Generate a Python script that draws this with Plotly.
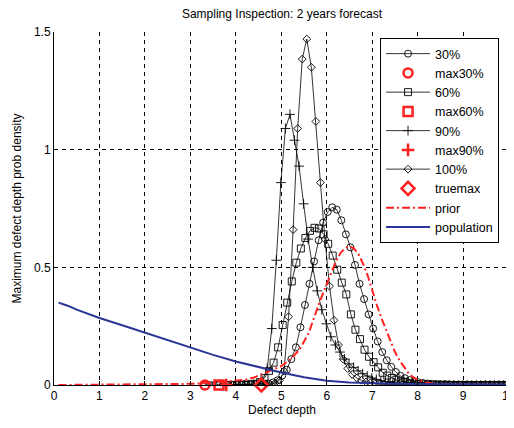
import plotly.graph_objects as go

# ---- data ----
STEP = 0.1

start30 = 3.32
y30 = [0, 0, 0, 0, 0, 0, 0, 0.001, 0.001, 0.001, 0.002, 0.002, 0.003,
       0.004, 0.006, 0.011, 0.02,
       0.04, 0.065, 0.11, 0.16, 0.245, 0.34, 0.43, 0.525, 0.615, 0.69,
       0.735, 0.755, 0.745, 0.70, 0.64, 0.585, 0.51, 0.43, 0.365, 0.30,
       0.24, 0.185, 0.14, 0.105, 0.077, 0.055, 0.039, 0.029, 0.021, 0.015,
       0.011, 0.008, 0.006, 0.004, 0.003, 0.002, 0.002, 0.001, 0.001, 0.001,
       0, 0, 0, 0, 0, 0, 0, 0, 0, 0]

start60 = 3.63
y60 = [0, 0, 0, 0, 0, 0.001, 0.002, 0.003, 0.005,
       0.012, 0.03, 0.06, 0.095, 0.16,
       0.255, 0.35, 0.44, 0.52, 0.58, 0.625, 0.655, 0.668, 0.665, 0.64,
       0.60, 0.55, 0.49, 0.435, 0.385, 0.30, 0.235, 0.195, 0.15, 0.12,
       0.097, 0.075, 0.052, 0.04, 0.03, 0.022, 0.016, 0.012, 0.008, 0.006,
       0.004, 0.003, 0.002, 0.002, 0.001,
       0.001, 0.001, 0, 0, 0, 0, 0, 0, 0, 0, 0, 0, 0, 0, 0]

start90 = 3.79
y90 = [0, 0, 0, 0, 0, 0.001, 0.002,
       0.006, 0.02, 0.07, 0.24, 0.53, 0.86,
       1.09, 1.15, 1.04, 0.93, 0.77, 0.62, 0.50, 0.40, 0.32, 0.26,
       0.205, 0.17, 0.14, 0.11, 0.09, 0.075, 0.06, 0.048, 0.038, 0.03,
       0.024, 0.018, 0.014, 0.01, 0.008, 0.006, 0.004, 0.003, 0.002, 0.001,
       0.001, 0.001, 0.001, 0, 0, 0, 0, 0, 0, 0, 0, 0, 0, 0, 0, 0, 0, 0, 0]

start100 = 4.56
y100 = [0, 0.001, 0.003, 0.008, 0.02,
        0.06, 0.29, 0.66, 1.09, 1.385, 1.47, 1.35, 1.12, 0.86, 0.62,
        0.42, 0.275, 0.17, 0.11, 0.07, 0.045, 0.03, 0.02, 0.013, 0.009,
        0.006, 0.004, 0.003, 0.002, 0.001,
        0.001, 0, 0, 0, 0, 0, 0, 0, 0, 0, 0, 0, 0, 0, 0, 0, 0, 0, 0, 0,
        0, 0, 0, 0, 0]

max_x = [start30, start60, start90, start100]
max_y = [0, 0, 0, 0]

prior_x = [0.1, 1, 2, 2.5, 3, 3.5, 4, 4.2, 4.4, 4.6, 4.8, 5.0, 5.2, 5.4, 5.6,
           5.8, 6.0, 6.1, 6.2, 6.3, 6.4, 6.5, 6.6, 6.7, 6.8, 6.9, 7.0, 7.1,
           7.2, 7.3, 7.4, 7.5, 7.6, 7.7, 7.8, 7.9, 8.0, 8.2, 8.4, 8.6, 9, 10]
prior_y = [0.0, 0.001, 0.002, 0.003, 0.005, 0.009, 0.016, 0.022, 0.032, 0.047,
           0.065, 0.08, 0.11, 0.15, 0.22, 0.33, 0.43, 0.48, 0.525, 0.56, 0.582,
           0.59, 0.58, 0.555, 0.515, 0.465, 0.40, 0.34, 0.285, 0.235, 0.185,
           0.14, 0.105, 0.075, 0.05, 0.033, 0.022, 0.01, 0.004, 0.002, 0.001, 0]

pop_x = [0.1, 0.3, 0.5, 1, 1.5, 2, 2.5, 3, 3.5, 4, 4.5, 5, 5.5, 6, 6.5, 7,
         7.5, 8, 9, 10]
pop_y = [0.35, 0.337, 0.32, 0.285, 0.254, 0.222, 0.19, 0.158, 0.128, 0.10,
         0.075, 0.053, 0.033, 0.018, 0.011, 0.007, 0.005, 0.004, 0.003, 0.002]

x_ticks = [0, 1, 2, 3, 4, 5, 6, 7, 8, 9, 10]
y_ticks = [0, 0.5, 1, 1.5]


def grid_x(start, n):
    return [round(start + STEP * i, 4) for i in range(n)]


RED = "#FF2020"
BLUE = "#2A3596"
FONT = "Liberation Sans, Arial, sans-serif"

# the page body has an 8px margin, so the figure is sized to fit inside it
W, H = 506, 420

fig = go.Figure()

series = [
    ("30%", start30, y30, "circle-open", 7),
    ("max30%", None, None, "circle-open", 9),
    ("60%", start60, y60, "square-open", 7),
    ("max60%", None, None, "square-open", 9),
    ("90%", start90, y90, "cross-thin-open", 7),
    ("max90%", None, None, "cross-thin-open", 9),
    ("100%", start100, y100, "diamond-open", 6),
    ("truemax", None, None, "diamond-open", 10),
]

for idx, (name, start, ys, sym, size) in enumerate(series):
    if ys is not None:
        fig.add_trace(go.Scatter(
            x=grid_x(start, len(ys)), y=ys, name=name, mode="lines+markers",
            line=dict(color="black", width=0.8),
            marker=dict(symbol=sym, size=size, color="black",
                        line=dict(color="black", width=0.9)),
        ))
    else:
        k = idx // 2
        fig.add_trace(go.Scatter(
            x=[max_x[k]], y=[max_y[k]], name=name, mode="markers",
            marker=dict(symbol=sym, size=size, color=RED,
                        line=dict(color=RED, width=2.5)),
            cliponaxis=False,
        ))

fig.add_trace(go.Scatter(
    x=prior_x, y=prior_y, name="prior", mode="lines",
    line=dict(color=RED, width=2, dash="8px,3px,2px,3px"),
))
fig.add_trace(go.Scatter(
    x=pop_x, y=pop_y, name="population", mode="lines",
    line=dict(color=BLUE, width=2),
))

axis_common = dict(
    showgrid=True, gridcolor="black", gridwidth=0.6, griddash="4px,4px",
    zeroline=False, showline=True, linecolor="black", linewidth=1,
    ticks="inside", ticklen=4, tickcolor="black",
    tickfont=dict(family=FONT, size=12, color="black"),
    ticklabeloverflow="allow",
    mirror=False,
)

fig.update_layout(
    width=W, height=H,
    margin=dict(l=46, r=4, t=24, b=43, autoexpand=False),
    paper_bgcolor="white", plot_bgcolor="white",
    font=dict(family=FONT, size=12, color="black"),
    title=dict(text="Sampling Inspection: 2 years forecast",
               x=0.5, xref="paper", xanchor="center",
               y=1 - 6 / H, yref="container", yanchor="middle",
               font=dict(family=FONT, size=12, color="black")),
    xaxis=dict(range=[0, 10.03], tickvals=x_ticks,
               title=dict(text="Defect depth", standoff=2,
                          font=dict(family=FONT, size=12)),
               **axis_common),
    yaxis=dict(range=[0, 1.5], tickvals=y_ticks, ticktext=["0", "0.5", "1", "1.5"],
               title=dict(text="Maximum defect depth prob density", standoff=9,
                          font=dict(family=FONT, size=12)),
               **axis_common),
    legend=dict(x=0.715, y=0.983, xanchor="left", yanchor="top",
                bgcolor="white", bordercolor="black", borderwidth=1,
                font=dict(family=FONT, size=12.5, color="black"),
                itemwidth=44, tracegroupgap=0),
    showlegend=True,
)

fig.write_html("out.html")
